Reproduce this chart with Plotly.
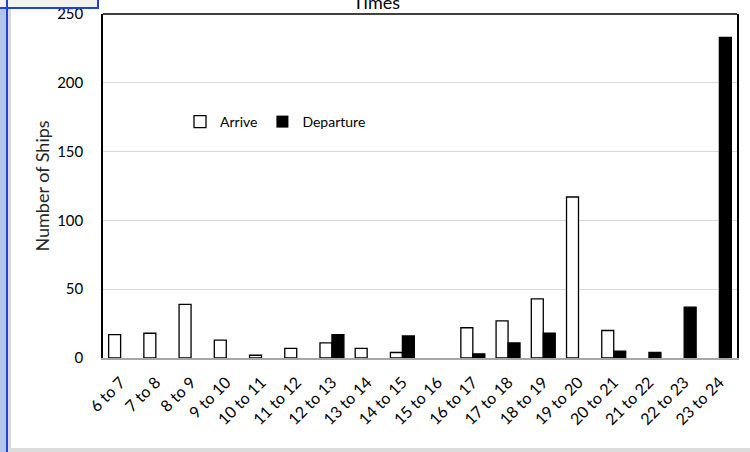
import plotly.graph_objects as go

categories = ["6 to 7", "7 to 8", "8 to 9", "9 to 10", "10 to 11", "11 to 12",
              "12 to 13", "13 to 14", "14 to 15", "15 to 16", "16 to 17", "17 to 18",
              "18 to 19", "19 to 20", "20 to 21", "21 to 22", "22 to 23", "23 to 24"]
arrive = [17, 18, 39, 13, 2, 7, 11, 7, 4, 0, 22, 27, 43, 117, 20, 0, 0, 0]
departure = [0, 0, 0, 0, 0, 0, 17, 0, 16, 0, 3, 11, 18, 0, 5, 4, 37, 233]
y_ticks = [0, 50, 100, 150, 200, 250]

W, H = 750, 452
L, R, T, B = 103, 737, 14, 358
FONT = "Lato"


def px(x):
    return (x - L) / (R - L)


def py(y):
    return (B - y) / (B - T)


def outline(values):
    return [1.3 if v > 0 else 0 for v in values]


fig = go.Figure()
fig.add_trace(go.Bar(x=categories, y=arrive, name="Arrive",
                     marker=dict(color="white", line=dict(color="black", width=outline(arrive)))))
fig.add_trace(go.Bar(x=categories, y=departure, name="Departure",
                     marker=dict(color="black", line=dict(color="black", width=outline(departure)))))

shapes = [
    dict(type="rect", xref="paper", yref="paper", x0=px(0), x1=px(6), y0=py(H), y1=py(0),
         fillcolor="#b4c6e7", line=dict(width=0), layer="below"),
    dict(type="rect", xref="paper", yref="paper", x0=px(6), x1=px(8), y0=py(H), y1=py(0),
         fillcolor="#1f44d4", line=dict(width=0)),
    dict(type="rect", xref="paper", yref="paper", x0=px(8), x1=px(11), y0=py(H), y1=py(0),
         fillcolor="#d9d9d9", line=dict(width=0), layer="below"),
    dict(type="rect", xref="paper", yref="paper", x0=px(8), x1=px(W), y0=py(H), y1=py(448),
         fillcolor="#dcdcdc", line=dict(width=0), layer="below"),
    dict(type="rect", xref="paper", yref="paper", x0=px(0), x1=px(97), y0=py(7), y1=py(0),
         fillcolor="#f2f2f2", line=dict(width=0), layer="below"),
    dict(type="rect", xref="paper", yref="paper", x0=px(0), x1=px(99), y0=py(9), y1=py(7),
         fillcolor="#1f44d4", line=dict(width=0)),
    dict(type="rect", xref="paper", yref="paper", x0=px(97), x1=px(99), y0=py(9), y1=py(0),
         fillcolor="#1f44d4", line=dict(width=0)),
    dict(type="line", xref="paper", yref="paper", x0=0, x1=1, y0=1, y1=1,
         line=dict(color="black", width=1.5)),
]

fig.add_annotation(text="Times", xref="paper", yref="paper", x=px(376), y=py(15),
                   xanchor="center", yanchor="bottom", showarrow=False,
                   font=dict(family=FONT, size=18, color="black"))

fig.update_layout(
    width=W, height=H,
    margin=dict(l=L, r=W - R, t=T, b=H - B, pad=0, autoexpand=False),
    paper_bgcolor="white", plot_bgcolor="white",
    barmode="group", bargap=0.32, bargroupgap=0,
    font=dict(family=FONT, size=15, color="black"),
    shapes=shapes,
    showlegend=True,
    legend=dict(orientation="h", x=px(180), y=py(122), xanchor="left", yanchor="middle",
                bgcolor="rgba(0,0,0,0)", font=dict(family=FONT, size=14, color="black"),
                itemwidth=30, tracegroupgap=0),
    xaxis=dict(showline=True, linecolor="#a6a6a6", linewidth=1.5, mirror=False,
               tickangle=-45, tickfont=dict(family=FONT, size=16, color="black"),
               ticks="", showgrid=False, ticklabelstandoff=7, automargin=False),
    yaxis=dict(range=[0, 250], tickvals=y_ticks, showgrid=True, gridcolor="#d9d9d9",
               gridwidth=1, showline=True, linecolor="black", linewidth=1.5, mirror=True,
               ticks="", ticklabelstandoff=15, zeroline=False, automargin=False,
               tickfont=dict(family=FONT, size=15, color="black"),
               title=dict(text="Number of Ships", standoff=3,
                          font=dict(family=FONT, size=18, color="#262626"))),
)

fig.write_html("out.html", config={"displayModeBar": False},
               post_script="document.body.style.margin='0px';")
